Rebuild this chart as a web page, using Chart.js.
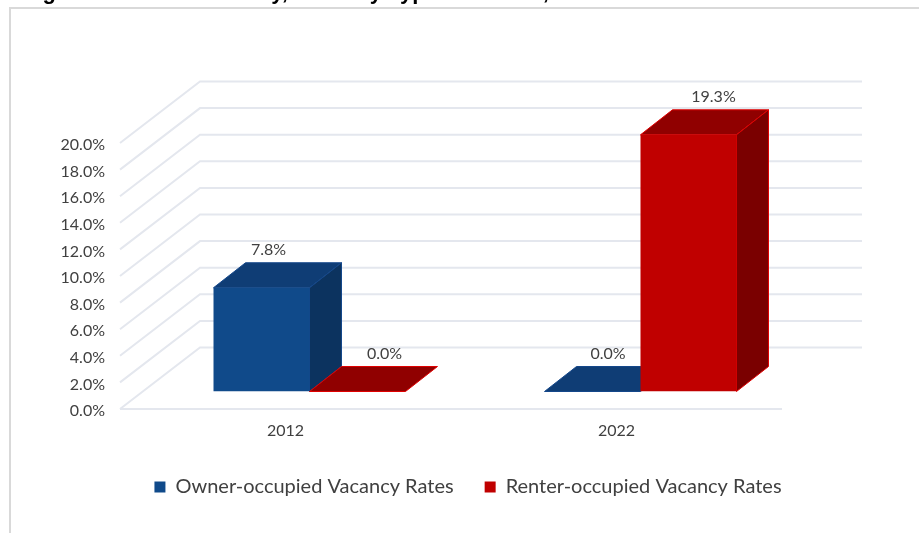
<!DOCTYPE html>
<html>
<head>
<meta charset="utf-8">
<title>Rental Vacancy</title>
<script src="https://cdn.jsdelivr.net/npm/chart.js@4"></script>
<style>
    html, body { margin: 0; padding: 0; background: #fff; overflow: hidden; }
    #wrap { position: absolute; left: 0; top: 0; width: 919px; height: 533px; }
</style>
</head>
<body>
<div id="wrap"><canvas id="vacancyChart" width="919" height="533"></canvas></div>
<script>
// data
var years = ['2012', '2022'];
var ownerRates = [7.8, 0];
var renterRates = [0, 19.3];
var seriesNames = ['Owner-occupied Vacancy Rates', 'Renter-occupied Vacancy Rates'];
var chartTitle = 'Figure 4: Rental Vacancy, Vacancy Type of Tenure, 2012 and 2022';

// 3D look
var wall = { dx: 80, dy: 61.5 };
var barShift = { x: 24, y: -17.5 };
var barDepth = { x: 32, y: 25 };
var faces = [
    { front: '#104a8a', top: '#0f3d75', side: '#0c335f', edge: '#14478a' },
    { front: '#c00000', top: '#900000', side: '#7a0000', edge: '#e00000' }
];
// the value labels sit a little off the bar centre in the original
var labelNudge = [[7, 15.5], [27, 25]];
var textColor = '#404040';
var fontName = 'Lato, sans-serif';

function poly(ctx, pts, fill, stroke) {
    ctx.beginPath();
    pts.forEach(function (p, i) {
        if (i === 0) ctx.moveTo(p[0], p[1]); else ctx.lineTo(p[0], p[1]);
    });
    ctx.closePath();
    ctx.fillStyle = fill;
    ctx.fill();
    ctx.lineWidth = 1;
    ctx.strokeStyle = stroke;
    ctx.stroke();
}

var look3d = {
    id: 'look3d',
    afterLayout: function (chart) {
        // legend sits right of the centre and a bit higher in the original
        chart.legend.left += 77;
        chart.legend.right += 77;
        chart.legend.top -= 10;
        chart.legend.bottom -= 10;
    },
    beforeDraw: function (chart) {
        var ctx = chart.ctx;
        ctx.save();
        // frame
        ctx.strokeStyle = '#d9d9d9';
        ctx.lineWidth = 2;
        ctx.beginPath();
        ctx.moveTo(10, 533);
        ctx.lineTo(10, 8);
        ctx.lineTo(919, 8);
        ctx.stroke();
        // clipped heading
        ctx.fillStyle = '#000';
        ctx.font = 'bold 22px "Liberation Sans"';
        ctx.textAlign = 'left';
        ctx.textBaseline = 'alphabetic';
        ctx.fillText(chartTitle, 23, -1);
        // walls and floor
        var yScale = chart.scales.y;
        var area = chart.chartArea;
        ctx.strokeStyle = '#e4e7ee';
        ctx.lineWidth = 2;
        yScale.ticks.forEach(function (t) {
            var y = yScale.getPixelForValue(t.value);
            ctx.beginPath();
            ctx.moveTo(area.left, y);
            ctx.lineTo(area.left + wall.dx, y - wall.dy);
            ctx.lineTo(area.right + wall.dx, y - wall.dy);
            ctx.stroke();
        });
        var y0 = yScale.getPixelForValue(0);
        ctx.beginPath();
        ctx.moveTo(area.left, y0);
        ctx.lineTo(area.right, y0);
        ctx.stroke();
        ctx.restore();
    },
    // top and side faces go under every front face
    beforeDatasetsDraw: function (chart) {
        var ctx = chart.ctx;
        ctx.save();
        ctx.translate(barShift.x, barShift.y);
        chart.data.datasets.forEach(function (ds, i) {
            var f = faces[i];
            chart.getDatasetMeta(i).data.forEach(function (bar) {
                var p = bar.getProps(['x', 'y', 'base', 'width'], true);
                var l = p.x - p.width / 2, r = p.x + p.width / 2;
                var d = barDepth;
                poly(ctx, [[l, p.y], [r, p.y], [r + d.x, p.y - d.y], [l + d.x, p.y - d.y]], f.top, f.edge);
                if (p.base - p.y > 0.5) {
                    poly(ctx, [[r, p.y], [r + d.x, p.y - d.y], [r + d.x, p.base - d.y], [r, p.base]], f.side, f.edge);
                }
            });
        });
        ctx.restore();
    },
    beforeDatasetDraw: function (chart) {
        chart.ctx.save();
        chart.ctx.translate(barShift.x, barShift.y);
    },
    afterDatasetDraw: function (chart) {
        chart.ctx.restore();
    },
    afterDatasetsDraw: function (chart) {
        var ctx = chart.ctx;
        ctx.save();
        ctx.font = '16px ' + fontName;
        ctx.fillStyle = textColor;
        ctx.textAlign = 'center';
        ctx.textBaseline = 'middle';
        chart.data.datasets.forEach(function (ds, i) {
            chart.getDatasetMeta(i).data.forEach(function (bar, j) {
                var p = bar.getProps(['x', 'y'], true);
                ctx.fillText(ds.data[j].toFixed(1) + '%',
                    p.x + barShift.x + labelNudge[i][j],
                    p.y + barShift.y - barDepth.y - 13);
            });
        });
        ctx.restore();
    }
};

var ctx = document.getElementById('vacancyChart').getContext('2d');
var vacancyChart = new Chart(ctx, {
    type: 'bar',
    data: {
        labels: years,
        datasets: [{
            label: seriesNames[0],
            data: ownerRates,
            backgroundColor: faces[0].front,
            borderWidth: 0
        }, {
            label: seriesNames[1],
            data: renterRates,
            backgroundColor: faces[1].front,
            borderWidth: 0
        }]
    },
    options: {
        responsive: false,
        animation: false,
        categoryPercentage: 0.58,
        barPercentage: 1,
        layout: { padding: { left: 0, right: 137, top: 143, bottom: 16 } },
        scales: {
            x: {
                grid: { display: false },
                border: { display: false },
                ticks: { color: textColor, font: { family: fontName, size: 16 }, padding: 4 },
                afterFit: function (scale) { scale.height = 47; }
            },
            y: {
                min: 0,
                max: 20,
                grid: { display: false, drawTicks: false },
                border: { display: false },
                ticks: {
                    stepSize: 2,
                    padding: 15,
                    color: textColor,
                    font: { family: fontName, size: 16, lineHeight: '4px' },
                    // blank first line pushes the text 2px under its gridline
                    callback: function (v) { return ['', v.toFixed(1) + '%']; }
                },
                afterFit: function (scale) { scale.width = 120; }
            }
        },
        plugins: {
            title: { display: false },
            tooltip: { enabled: false },
            legend: {
                position: 'bottom',
                labels: {
                    boxWidth: 11,
                    boxHeight: 11,
                    padding: 31,
                    color: textColor,
                    font: { family: fontName, size: 20 }
                }
            }
        }
    },
    plugins: [look3d]
});
</script>
</body>
</html>
